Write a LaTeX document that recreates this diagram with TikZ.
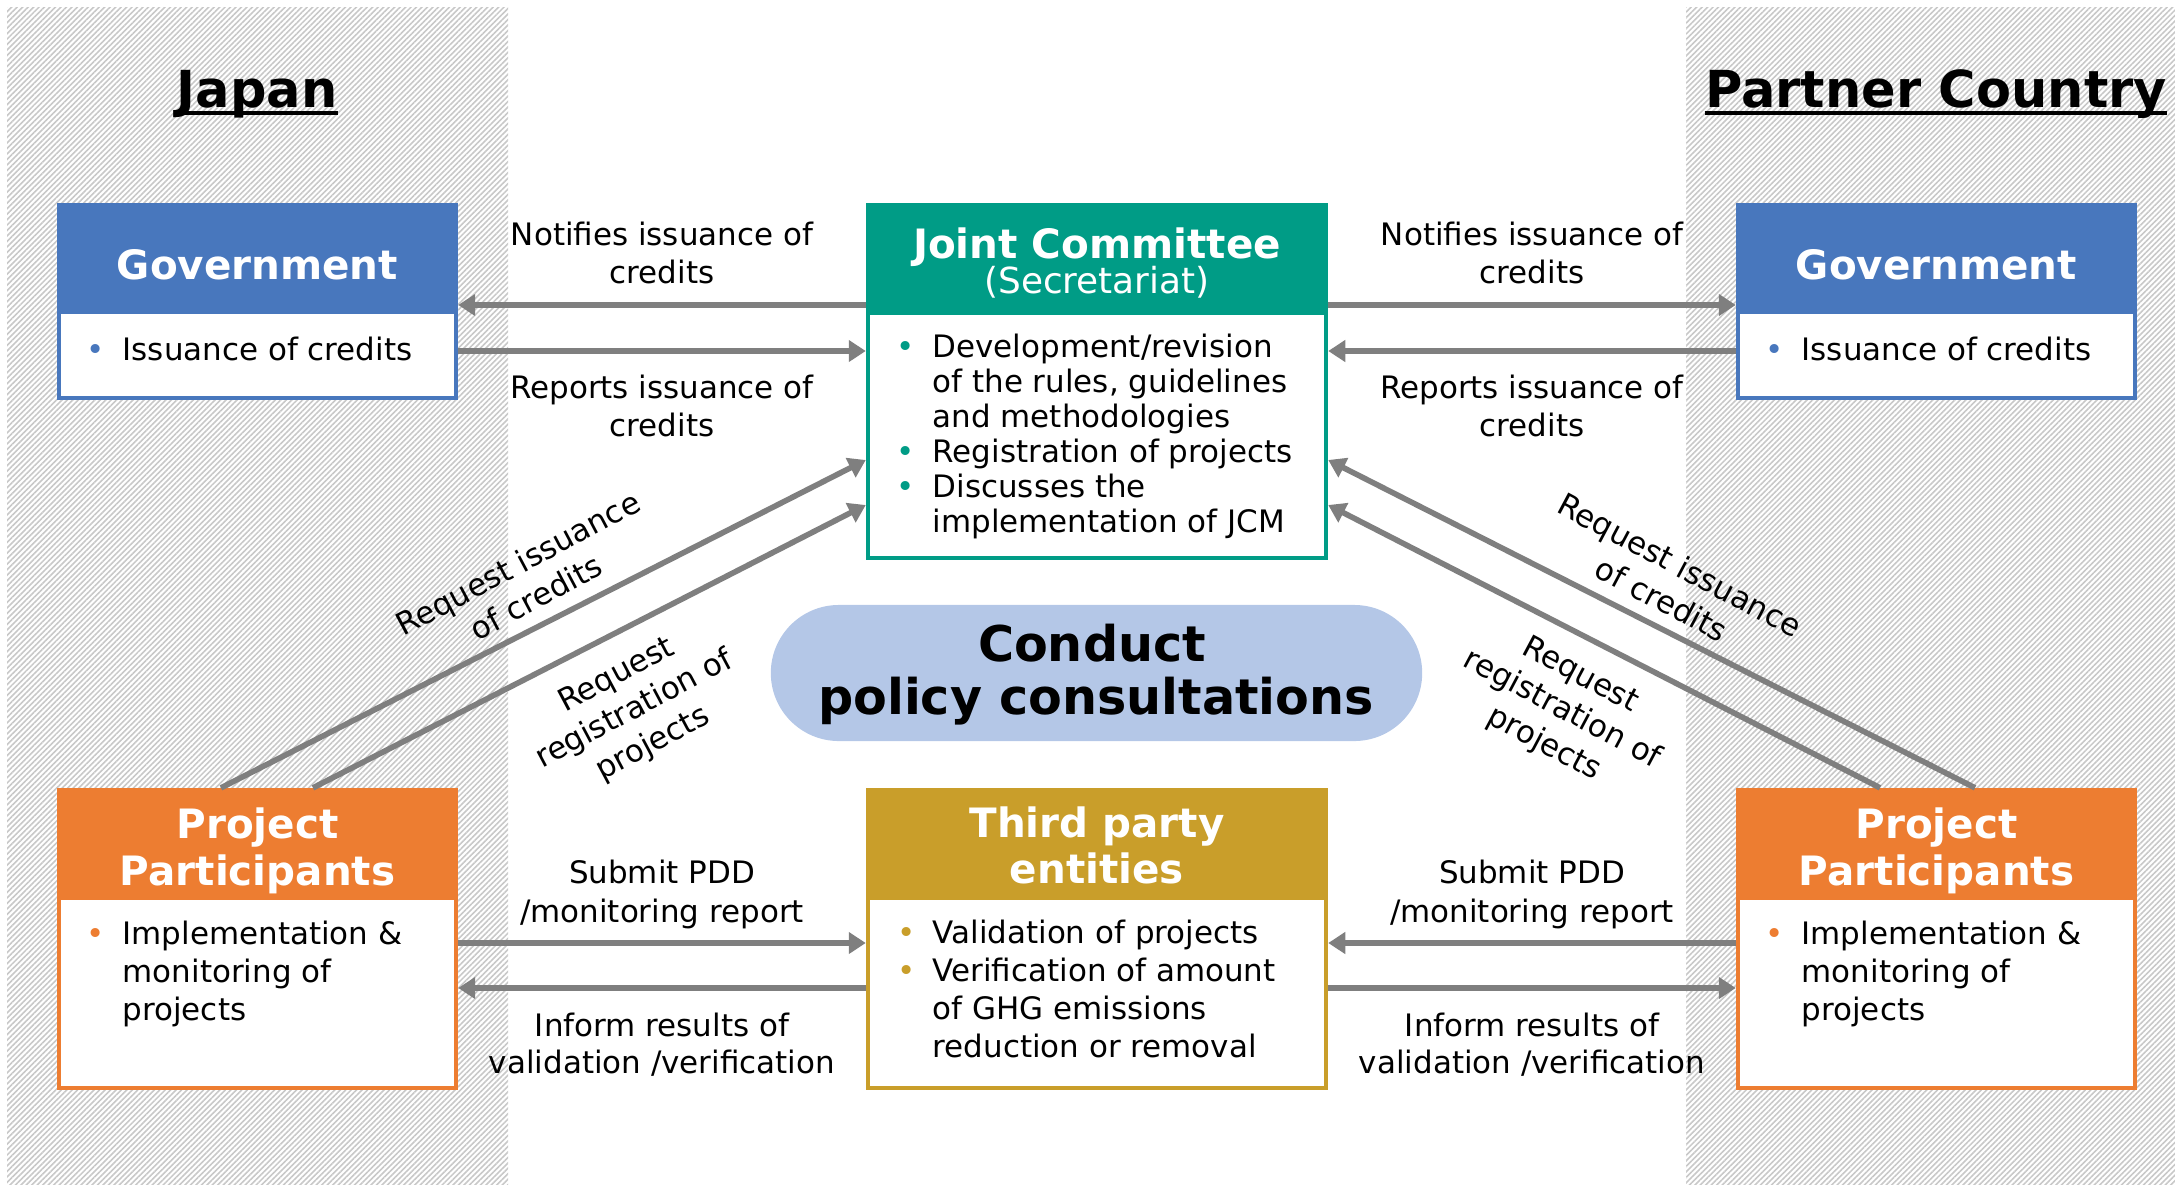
\documentclass[tikz,border=0pt]{standalone}
\usepackage{fontspec}
\setmainfont{DejaVu Sans}
\usetikzlibrary{arrows.meta,patterns.meta,calc}
\definecolor{govblue}{HTML}{4877BD}
\definecolor{jcteal}{HTML}{009C86}
\definecolor{pporange}{HTML}{ED7D31}
\definecolor{tpgold}{HTML}{C99E2A}
\definecolor{ellblue}{HTML}{B4C7E7}
\definecolor{arrgray}{HTML}{7F7F7F}
\definecolor{hatchgray}{HTML}{C8C8C8}
\begin{document}
\begin{tikzpicture}[x=0.01cm,y=-0.01cm,
  band/.style={pattern={Lines[angle=45,distance=1.1pt,line width=0.45pt]},pattern color=hatchgray},
  boxframe/.style={draw=#1,line width=1.2pt,fill=white,inner sep=0,minimum width=3.97cm},
  hdrfill/.style={draw=#1,fill=#1,line width=1.2pt,inner sep=0,minimum width=3.97cm},
  hdr/.style={font=\fontsize{11.5}{13}\selectfont\bfseries,text=white,anchor=base,inner sep=0},
  body/.style={font=\fontsize{8.8}{10}\selectfont,anchor=base west,inner sep=0},
  blt/.style={font=\fontsize{8.8}{10}\selectfont,text=#1,anchor=base,inner sep=0},
  lbl/.style={font=\fontsize{8.8}{10}\selectfont,anchor=base,inner sep=0},
  rlbl/.style={font=\fontsize{8.8}{11}\selectfont,align=center,inner sep=0},
  ttl/.style={font=\fontsize{14.5}{16}\selectfont\bfseries,anchor=base,inner sep=0},
  arr/.style={draw=arrgray,line width=1.6pt,-{Triangle[length=0.17cm,width=0.21cm]}}
]
\useasboundingbox (0,0) rectangle (2175,1184);
% hatched country bands
\fill[band] (7,7) rectangle (508,1184);
\fill[band] (1686,7) rectangle (2175,1184);

% titles
\node[ttl] (japan) at (257,107) {Japan};
\draw[line width=0.9pt] ([yshift=-0.06cm]japan.base west) -- ([yshift=-0.06cm]japan.base east);
\node[ttl] (partner) at (1936,107) {Partner Country};
\draw[line width=0.9pt] ([yshift=-0.06cm]partner.base west) -- ([yshift=-0.06cm]partner.base east);

% Government (Japan)
\node[boxframe=govblue,minimum height=1.93cm] (govL) at (257.5,301.5) {};
\node[hdrfill=govblue,minimum height=1.07cm] (govLh) at (257.5,258.5) {};
\node[hdr] (govLt) at (257.5,279) {Government};
\node[blt=govblue] (govLb1) at (96,360) {•};
\node[body] (govLx1) at (122,360) {Issuance of credits};

% Government (Partner)
\node[boxframe=govblue,minimum height=1.93cm] (govR) at (1936.5,301.5) {};
\node[hdrfill=govblue,minimum height=1.07cm] (govRh) at (1936.5,258.5) {};
\node[hdr] (govRt) at (1936.5,279) {Government};
\node[blt=govblue] (govRb1) at (1775,360) {•};
\node[body] (govRx1) at (1801,360) {Issuance of credits};

% Joint Committee
\node[boxframe=jcteal,minimum width=4.58cm,minimum height=3.53cm] (jc) at (1097,381.5) {};
\node[hdrfill=jcteal,minimum width=4.58cm,minimum height=1.08cm] (jch) at (1097,259) {};
\node[hdr] (jct1) at (1097,258) {Joint Committee};
\node[font=\fontsize{10.2}{12}\selectfont,text=white,anchor=base,inner sep=0] (jct2) at (1097,293) {(Secretariat)};
\node[blt=jcteal] (jcb1) at (906,357) {•};
\node[body] (jcx1) at (932,357) {Development/revision};
\node[body] (jcx2) at (932,392) {of the rules, guidelines};
\node[body] (jcx3) at (932,427) {and methodologies};
\node[blt=jcteal] (jcb2) at (906,462) {•};
\node[body] (jcx4) at (932,462) {Registration of projects};
\node[blt=jcteal] (jcb3) at (906,497) {•};
\node[body] (jcx5) at (932,497) {Discusses the};
\node[body] (jcx6) at (932,532) {implementation of JCM};

% Project Participants (Japan)
\node[boxframe=pporange,minimum height=2.98cm] (ppL) at (257.5,939) {};
\node[hdrfill=pporange,minimum height=1.08cm] (ppLh) at (257.5,844) {};
\node[hdr] (ppLt1) at (257.5,838) {Project};
\node[hdr] (ppLt2) at (257.5,885) {Participants};
\node[blt=pporange] (ppLb1) at (96,944) {•};
\node[body] (ppLx1) at (122,944) {Implementation \&};
\node[body] (ppLx2) at (122,982) {monitoring of};
\node[body] (ppLx3) at (122,1020) {projects};

% Project Participants (Partner)
\node[boxframe=pporange,minimum height=2.98cm] (ppR) at (1936.5,939) {};
\node[hdrfill=pporange,minimum height=1.08cm] (ppRh) at (1936.5,844) {};
\node[hdr] (ppRt1) at (1936.5,838) {Project};
\node[hdr] (ppRt2) at (1936.5,885) {Participants};
\node[blt=pporange] (ppRb1) at (1775,944) {•};
\node[body] (ppRx1) at (1801,944) {Implementation \&};
\node[body] (ppRx2) at (1801,982) {monitoring of};
\node[body] (ppRx3) at (1801,1020) {projects};

% Third party entities
\node[boxframe=tpgold,minimum width=4.58cm,minimum height=2.98cm] (tp) at (1097,939) {};
\node[hdrfill=tpgold,minimum width=4.58cm,minimum height=1.08cm] (tph) at (1097,844) {};
\node[hdr] (tpt1) at (1097,837) {Third party};
\node[hdr] (tpt2) at (1097,883) {entities};
\node[blt=tpgold] (tpb1) at (907,943) {•};
\node[body] (tpx1) at (932,943) {Validation of projects};
\node[blt=tpgold] (tpb2) at (907,981) {•};
\node[body] (tpx2) at (932,981) {Verification of amount};
\node[body] (tpx3) at (932,1019) {of GHG emissions};
\node[body] (tpx4) at (932,1057) {reduction or removal};

% Conduct policy consultations
\node[fill=ellblue,rounded corners=0.68cm,minimum width=6.51cm,minimum height=1.36cm,inner sep=0] (cpc) at (1096.5,673) {};
\node[font=\fontsize{14}{15}\selectfont\bfseries,anchor=base,inner sep=0] (cpc1) at (1092,661) {Conduct};
\node[font=\fontsize{14}{15}\selectfont\bfseries,anchor=base,inner sep=0] (cpc2) at (1096,714) {policy consultations};

% arrow levels
\coordinate (yN) at (0,305);
\coordinate (yR) at (0,351);
\coordinate (yS) at (0,943);
\coordinate (yI) at (0,988);
\coordinate (yQ1) at (0,460);
\coordinate (yQ2) at (0,505);
\coordinate (sL1) at (221,790);
\coordinate (sL2) at (313,790);
\coordinate (sR1) at (1975,790);
\coordinate (sR2) at (1880,790);

% horizontal arrows, top
\draw[arr] (jc.west |- yN) -- (govL.east |- yN);
\draw[arr] (govL.east |- yR) -- (jc.west |- yR);
\draw[arr] (jc.east |- yN) -- (govR.west |- yN);
\draw[arr] (govR.west |- yR) -- (jc.east |- yR);
% horizontal arrows, bottom
\draw[arr] (ppL.east |- yS) -- (tp.west |- yS);
\draw[arr] (tp.west |- yI) -- (ppL.east |- yI);
\draw[arr] (ppR.west |- yS) -- (tp.east |- yS);
\draw[arr] (tp.east |- yI) -- (ppR.west |- yI);
% diagonal arrows
\draw[arr] (sL1 |- ppL.north) -- (jc.west |- yQ1);
\draw[arr] (sL2 |- ppL.north) -- (jc.west |- yQ2);
\draw[arr] (sR1 |- ppR.north) -- (jc.east |- yQ1);
\draw[arr] (sR2 |- ppR.north) -- (jc.east |- yQ2);

% arrow labels
\node[lbl] (lN1) at (662,245) {Notifies issuance of};
\node[lbl] (lN2) at (662,283) {credits};
\node[lbl] (lR1) at (662,398) {Reports issuance of};
\node[lbl] (lR2) at (662,436) {credits};
\node[lbl] (rN1) at (1532,245) {Notifies issuance of};
\node[lbl] (rN2) at (1532,283) {credits};
\node[lbl] (rR1) at (1532,398) {Reports issuance of};
\node[lbl] (rR2) at (1532,436) {credits};
\node[lbl] (lS1) at (662,883) {Submit PDD};
\node[lbl] (lS2) at (662,922) {/monitoring report};
\node[lbl] (lI1) at (662,1036) {Inform results of};
\node[lbl] (lI2) at (662,1073) {validation /verification};
\node[lbl] (rS1) at (1532,883) {Submit PDD};
\node[lbl] (rS2) at (1532,922) {/monitoring report};
\node[lbl] (rI1) at (1532,1036) {Inform results of};
\node[lbl] (rI2) at (1532,1073) {validation /verification};

% diagonal labels
\node[rlbl,rotate=28] (lQ1) at (527,580) {Request issuance\\of credits};
\node[rlbl,rotate=28] (lQ2) at (635,710) {Request\\registration of\\projects};
\node[rlbl,rotate=-28] (rQ1) at (1671,582) {Request issuance\\of credits};
\node[rlbl,rotate=-28] (rQ2) at (1562,710) {Request\\registration of\\projects};
\end{tikzpicture}
\end{document}
